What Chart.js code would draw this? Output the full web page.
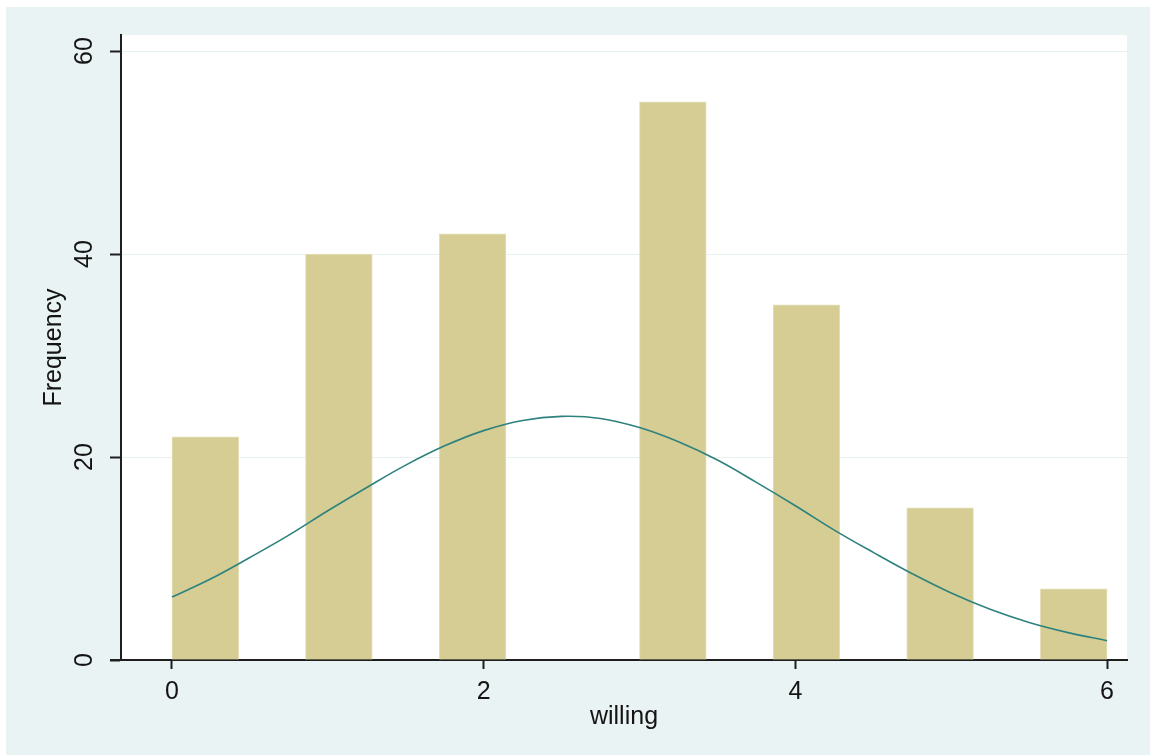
<!DOCTYPE html>
<html>
<head>
<meta charset="utf-8">
<title>willing - histogram</title>
<script src="https://cdn.jsdelivr.net/npm/chart.js@4.4.1/dist/chart.umd.min.js"></script>
<style>
    html, body { margin: 0; padding: 0; background: #ffffff; }
    #wrap { width: 1150px; height: 755px; }
</style>
</head>
<body>
<div id="wrap"><canvas id="hist" width="1150" height="755"></canvas></div>
<script>
//--- Data
var binCenters = [0.214, 0.643, 1.071, 1.5, 1.929, 2.357, 2.786, 3.214, 3.643, 4.071, 4.5, 4.929, 5.357, 5.786];
var binCounts  = [22, 0, 40, 0, 42, 0, 0, 55, 0, 35, 0, 15, 0, 7];
var curveX = [0, 0.25, 0.5, 0.75, 1, 1.25, 1.5, 1.75, 2, 2.25, 2.5, 2.75, 3, 3.25, 3.5, 3.75, 4, 4.25, 4.5, 4.75, 5, 5.25, 5.5, 5.75, 6];
var curveY = [6.2, 8.0, 10.1, 12.3, 14.7, 17.0, 19.2, 21.1, 22.6, 23.6, 24.0, 23.8, 22.9, 21.5, 19.7, 17.5, 15.2, 12.8, 10.6, 8.5, 6.6, 5.0, 3.7, 2.7, 1.9];
var xTicks = [0, 2, 4, 6];
var yTicks = [0, 20, 40, 60];
var xTitle = 'willing';
var yTitle = 'Frequency';

//--- Colours
var panelColor = '#eaf3f3';
var barColor = '#d5cd93';
var barEdge = '#e4dfb8';
var curveColor = '#2d827e';
var axisColor = '#1e1e1e';
var textColor = '#141414';
var labelFont = '25px "Liberation Sans", Arial, sans-serif';

var barData = binCenters.map(function (x, i) { return { x: x, y: binCounts[i] }; });
var lineData = curveX.map(function (x, i) { return { x: x, y: curveY[i] }; });

//--- background + Stata-like labels
var stataLook = {
    id: 'stataLook',
    beforeDraw: function (chart) {
        var ctx = chart.ctx, a = chart.chartArea;
        ctx.save();
        ctx.fillStyle = '#ffffff';
        ctx.fillRect(0, 0, chart.width, chart.height);
        ctx.fillStyle = panelColor;
        ctx.fillRect(6, 7, chart.width - 6, chart.height - 7);
        ctx.fillStyle = '#ffffff';
        ctx.fillRect(a.left, a.top, a.right - a.left, a.bottom - a.top);
        ctx.restore();
    },
    afterDraw: function (chart) {
        var ctx = chart.ctx, a = chart.chartArea;
        var xs = chart.scales.x, ys = chart.scales.y;
        ctx.save();
        // x axis line runs a bit past the y axis
        ctx.strokeStyle = axisColor;
        ctx.lineWidth = 2;
        ctx.beginPath();
        ctx.moveTo(a.left - 11, a.bottom);
        ctx.lineTo(a.left, a.bottom);
        ctx.stroke();

        ctx.fillStyle = textColor;
        ctx.font = labelFont;
        ctx.textAlign = 'center';
        ctx.textBaseline = 'middle';
        xTicks.forEach(function (v) {
            ctx.fillText(String(v), xs.getPixelForValue(v), a.bottom + 32);
        });
        ctx.fillText(xTitle, (a.left + a.right) / 2, a.bottom + 57);

        yTicks.forEach(function (v) {
            ctx.save();
            ctx.translate(a.left - 36, ys.getPixelForValue(v));
            ctx.rotate(-Math.PI / 2);
            ctx.fillText(String(v), 0, 0);
            ctx.restore();
        });
        ctx.save();
        ctx.translate(a.left - 67, (a.top + a.bottom) / 2);
        ctx.rotate(-Math.PI / 2);
        ctx.fillText(yTitle, 0, 0);
        ctx.restore();
        ctx.restore();
    }
};

var chart = new Chart(document.getElementById('hist'), {
    type: 'bar',
    data: {
        datasets: [{
            type: 'line',
            data: lineData,
            borderColor: curveColor,
            borderWidth: 1.6,
            pointRadius: 0,
            tension: 0.4,
            fill: false,
            order: 0
        }, {
            type: 'bar',
            data: barData,
            backgroundColor: barColor,
            borderColor: barEdge,
            borderWidth: 1,
            barPercentage: 1,
            categoryPercentage: 1,
            order: 1
        }]
    },
    options: {
        responsive: false,
        animation: false,
        events: [],
        layout: { padding: { left: 0, top: 35, right: 23, bottom: 0 } },
        plugins: { legend: { display: false }, tooltip: { enabled: false } },
        scales: {
            x: {
                type: 'linear',
                min: -0.327,
                max: 6.128,
                offset: false,
                afterBuildTicks: function (s) { s.ticks = xTicks.map(function (v) { return { value: v }; }); },
                afterFit: function (s) { s.height = 95; },
                ticks: { display: false },
                grid: {
                    offset: false,
                    drawOnChartArea: false,
                    drawTicks: true,
                    tickLength: 9,
                    tickColor: axisColor,
                    tickWidth: 2
                },
                border: { display: true, color: axisColor, width: 2 }
            },
            y: {
                type: 'linear',
                min: 0,
                max: 61.58,
                afterBuildTicks: function (s) { s.ticks = yTicks.map(function (v) { return { value: v }; }); },
                afterFit: function (s) { s.width = 121; },
                ticks: { display: false },
                grid: {
                    color: function (c) { return c.tick && c.tick.value === 0 ? 'rgba(0,0,0,0)' : '#e8f1f1'; },
                    lineWidth: 1,
                    drawTicks: true,
                    tickLength: 11,
                    tickColor: axisColor,
                    tickWidth: 2
                },
                border: { display: true, color: axisColor, width: 2 }
            }
        }
    },
    plugins: [stataLook]
});
console.log('chart drawn');
</script>
</body>
</html>
